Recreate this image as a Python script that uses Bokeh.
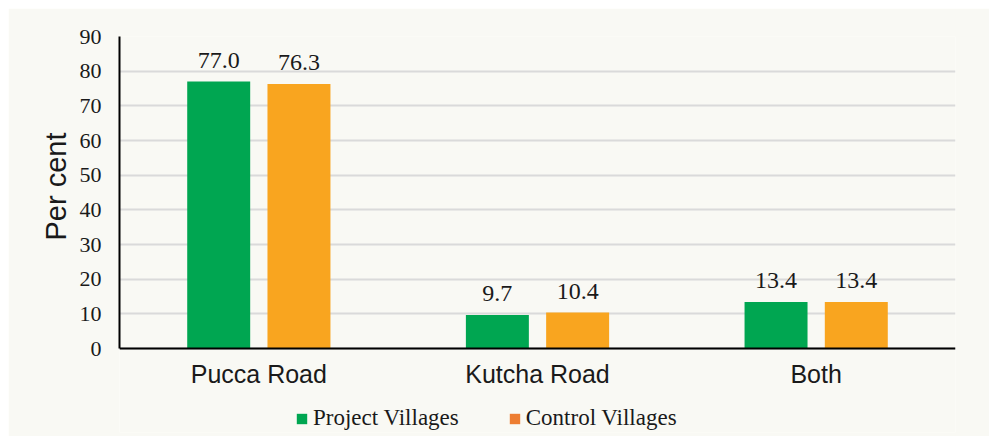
from bokeh.plotting import figure
from bokeh.models import FactorRange, ColumnDataSource, LabelSet, Legend, LegendItem, Range1d, FixedTicker, Title
from bokeh.transform import dodge
from bokeh.embed import file_html
from bokeh.resources import INLINE

categories = ["Pucca Road", "Kutcha Road", "Both"]
project_villages = [77.0, 9.7, 13.4]
control_villages = [76.3, 10.4, 13.4]
y_ticks = [0, 10, 20, 30, 40, 50, 60, 70, 80, 90]

GREEN = "#00A651"
ORANGE = "#F9A51F"
LEGEND_ORANGE = "#ED7D31"
BG = "#F9F9F4"

src = ColumnDataSource(dict(
    cat=categories,
    project=project_villages,
    control=control_villages,
    project_lbl=[f"{v:.1f}" for v in project_villages],
    control_lbl=[f"{v:.1f}" for v in control_villages],
))

# frame extends below zero so the legend can sit inside it
p = figure(x_range=FactorRange(*categories, range_padding=0), y_range=Range1d(-24.2, 90),
           width=981, height=428, output_backend="svg", toolbar_location=None,
           min_border_left=111, min_border_right=34, min_border_top=28, min_border_bottom=4)
p.styles = {"margin-left": "8px", "margin-top": "8px"}

p.background_fill_color = BG
p.border_fill_color = BG
p.outline_line_color = None

off = 0.144
w = 0.226
p.vbar(x=dodge("cat", -off, range=p.x_range), top="project", width=w, source=src,
       fill_color=GREEN, line_color=None)
p.vbar(x=dodge("cat", off, range=p.x_range), top="control", width=w, source=src,
       fill_color=ORANGE, line_color=None)

for col, lbl, o in [("project", "project_lbl", -off), ("control", "control_lbl", off)]:
    p.add_layout(LabelSet(x=dodge("cat", o, range=p.x_range), y=col, text=lbl, source=src,
                          text_align="center", text_baseline="bottom", y_offset=14,
                          text_font="Liberation Serif", text_font_size="24px", text_color="#1a1a1a"))

# legend proxies (zero-width bars, only used for legend swatches)
r1 = p.vbar(x=dodge("cat", -off, range=p.x_range), top="project", width=0, source=src,
            fill_color=GREEN, line_color=None)
r2 = p.vbar(x=dodge("cat", off, range=p.x_range), top="control", width=0, source=src,
            fill_color=LEGEND_ORANGE, line_color=None)
legend = Legend(items=[LegendItem(label="Project Villages", renderers=[r1]),
                       LegendItem(label="Control Villages", renderers=[r2])],
                orientation="horizontal", location=(176, 1),
                background_fill_alpha=0, border_line_color=None,
                glyph_width=13, glyph_height=13, label_standoff=5, spacing=49,
                label_text_font="Liberation Serif", label_text_font_size="23px",
                label_text_color="#1a1a1a", padding=0, margin=0)
p.add_layout(legend, "center")

p.ygrid.grid_line_color = "#DADADA"
p.ygrid.grid_line_width = 2
p.xgrid.grid_line_color = None

p.yaxis.ticker = FixedTicker(ticks=y_ticks)
p.yaxis.bounds = (0, 90)
p.yaxis.axis_line_color = "black"
p.yaxis.axis_line_width = 2
p.yaxis.major_tick_line_color = None
p.yaxis.minor_tick_line_color = None
p.yaxis.major_label_text_font = "Liberation Serif"
p.yaxis.major_label_text_font_size = "22px"
p.yaxis.major_label_text_color = "#1a1a1a"
p.yaxis.major_label_standoff = 12

# y-axis title, placed along the 0-90 span of the axis
ytitle = Title(text="Per cent", align="right", offset=96,
               text_font="Liberation Sans", text_font_size="29px",
               text_font_style="normal", text_color="#1a1a1a", standoff=10)
p.add_layout(ytitle, "left")

p.xaxis.fixed_location = 0
p.xaxis.axis_line_color = "black"
p.xaxis.axis_line_width = 2
p.xaxis.major_tick_line_color = None
p.xaxis.minor_tick_line_color = None
p.xaxis.major_label_text_font = "Liberation Sans"
p.xaxis.major_label_text_font_size = "25px"
p.xaxis.major_label_text_color = "#1a1a1a"
p.xaxis.major_label_standoff = 5

open("out.html", "w").write(file_html(p, INLINE))
